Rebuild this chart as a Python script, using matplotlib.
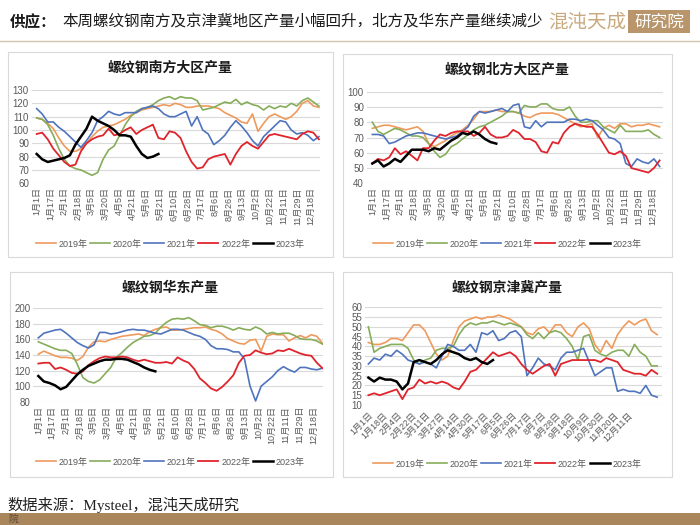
import numpy as np
import matplotlib
matplotlib.use("Agg")
import matplotlib.pyplot as plt
from matplotlib.patches import Rectangle
from matplotlib.lines import Line2D

plt.rcParams['font.family'] = ['Liberation Sans', 'Noto Sans CJK SC', 'DejaVu Sans']

W, H = 700, 525

# 图例和颜色
years = ["2019年", "2020年", "2021年", "2022年", "2023年"]
colors = ["#ee9a5c", "#86ad5a", "#4f74bd", "#e0242c", "#000000"]
widths = [1.2, 1.2, 1.2, 1.3, 1.8]

# x轴标签
dates_a = ["1月1日", "1月17日", "2月1日", "2月18日", "3月5日", "3月20日", "4月5日",
           "4月21日", "5月6日", "5月21日", "6月10日", "6月28日", "7月17日", "8月6日",
           "8月26日", "9月13日", "10月2日", "10月22日", "11月11日", "11月29日", "12月18日"]
dates_b = ["1月1日", "1月18日", "2月4日", "2月22日", "3月11日", "3月27日", "4月14日",
           "4月30日", "5月17日", "6月5日", "6月26日", "7月17日", "8月7日", "8月28日",
           "9月18日", "10月9日", "10月30日", "11月20日", "12月11日"]

# 南方大区
south_2019 = [109, 108, 105, 101, 94, 88, 84, 84, 86, 90, 95, 99, 102, 103, 104, 106, 108, 111, 113, 115,
              116, 117, 118, 119, 118, 120, 119, 117, 117, 118, 118, 118, 117, 116, 113, 111, 109, 106, 105, 112,
              99, 105, 110, 112, 110, 108, 110, 114, 120, 122, 118, 117]
south_2020 = [109, 108, 104, 96, 86, 78, 73, 71, 70, 68, 66, 68, 78, 85, 88, 96, 104, 110, 114, 116,
              117, 119, 122, 124, 125, 123, 125, 124, 124, 122, 115, 116, 117, 119, 121, 120, 123, 119, 121, 119,
              118, 115, 118, 116, 118, 117, 120, 118, 122, 124, 121, 118]
south_2021 = [116, 112, 106, 106, 102, 99, 95, 91, 87, 92, 98, 107, 110, 114, 112, 111, 113, 113, 113, 116,
              117, 118, 116, 112, 110, 110, 112, 114, 103, 110, 100, 97, 89, 92, 96, 102, 107, 103, 98, 92,
              88, 95, 99, 103, 107, 106, 100, 97, 98, 96, 92, 95]
south_2022 = [97, 98, 93, 86, 81, 76, 73, 74, 84, 90, 93, 95, 96, 101, 96, 97, 100, 102, 97, 100,
              102, 104, 94, 93, 99, 98, 94, 84, 76, 71, 72, 78, 80, 81, 82, 74, 82, 88, 91, 88,
              86, 91, 96, 97, 96, 95, 94, 93, 97, 99, 98, 93]
south_2023 = [82, 78, 76, 77, 78, 79, 81, 89, 95, 101, 110, 107, 105, 103, 100, 96, 96, 95, 88, 82, 79, 80, 82]

# 北方大区
north_2019 = [76, 77, 78, 78, 77, 76, 75, 76, 77, 74, 66, 64, 66, 68, 71, 73, 75, 78, 82, 87,
              87, 87, 88, 87, 87, 87, 86, 84, 83, 85, 86, 86, 86, 85, 83, 81, 79, 77, 78, 79,
              70, 76, 78, 76, 79, 79, 77, 78, 78, 79, 78, 77]
north_2020 = [80, 74, 72, 74, 76, 75, 73, 71, 71, 70, 66, 61, 57, 59, 64, 66, 69, 72, 75, 77,
              78, 80, 82, 84, 87, 87, 86, 91, 90, 90, 92, 92, 89, 88, 88, 90, 84, 80, 80, 81,
              81, 77, 75, 73, 78, 74, 74, 74, 74, 75, 72, 70]
north_2021 = [72, 72, 71, 66, 67, 69, 71, 72, 73, 73, 72, 71, 70, 69, 70, 71, 74, 77, 84, 87,
              86, 87, 88, 89, 87, 91, 92, 77, 76, 81, 77, 80, 80, 80, 80, 82, 82, 81, 82, 81,
              78, 75, 70, 69, 66, 53, 51, 56, 54, 53, 56, 51]
north_2022 = [53, 56, 55, 57, 63, 59, 61, 58, 55, 63, 63, 68, 72, 71, 73, 74, 74, 74, 71, 73,
              77, 72, 70, 70, 71, 75, 73, 69, 69, 67, 61, 60, 67, 66, 73, 77, 79, 78, 77, 77,
              72, 66, 60, 59, 61, 58, 50, 49, 48, 47, 50, 55]
north_2023 = [53, 55, 51, 53, 56, 54, 58, 62, 62, 62, 61, 63, 62, 65, 68, 70, 73, 72, 74, 72, 69, 67, 66]

# 华东
east_2019 = [141, 145, 142, 139, 137, 137, 136, 133, 138, 150, 157, 158, 157, 160, 162, 164, 165, 166, 167, 165,
             170, 173, 175, 176, 172, 172, 173, 174, 175, 175, 176, 173, 171, 167, 161, 158, 155, 154, 159, 160,
             145, 164, 167, 166, 166, 158, 162, 165, 162, 166, 164, 155]
east_2020 = [157, 154, 151, 148, 146, 146, 142, 128, 111, 106, 104, 108, 116, 124, 137, 143, 150, 156, 160, 164,
             165, 168, 176, 182, 186, 187, 186, 188, 184, 179, 178, 175, 177, 177, 175, 172, 175, 173, 172, 176,
             173, 167, 169, 167, 168, 168, 165, 161, 160, 160, 158, 154]
east_2021 = [162, 168, 170, 172, 173, 168, 162, 156, 152, 149, 153, 169, 169, 167, 168, 170, 172, 173, 172, 172,
             170, 168, 167, 170, 173, 173, 172, 169, 166, 164, 160, 152, 148, 148, 147, 144, 144, 135, 100, 81,
             100, 106, 112, 120, 125, 121, 118, 124, 124, 122, 121, 123]
east_2022 = [129, 130, 130, 122, 124, 121, 117, 116, 119, 127, 132, 136, 138, 137, 137, 138, 137, 134, 132, 134,
             132, 130, 130, 131, 129, 137, 133, 130, 122, 110, 104, 97, 94, 99, 106, 114, 130, 139, 140, 146,
             143, 141, 142, 146, 145, 148, 145, 142, 140, 139, 130, 123]
east_2023 = [113, 106, 104, 101, 96, 99, 107, 115, 121, 126, 129, 132, 134, 134, 135, 135, 134, 131, 128, 124, 121, 119]

# 京津冀
jjj_2019 = [42, 41, 41, 42, 44, 44, 43, 47, 51, 51, 48, 42, 36, 33, 35, 43, 50, 53, 54, 55,
            54, 55, 55, 56, 55, 54, 52, 50, 47, 46, 49, 50, 47, 51, 51, 47, 45, 50, 52, 49,
            41, 37, 43, 39, 46, 50, 53, 51, 53, 54, 48, 46]
jjj_2020 = [50, 37, 39, 40, 41, 41, 41, 39, 33, 31, 33, 34, 38, 39, 39, 40, 46, 50, 52, 51,
            52, 52, 53, 52, 51, 52, 51, 50, 46, 44, 47, 44, 47, 48, 47, 44, 40, 33, 45, 46,
            38, 36, 35, 37, 38, 38, 35, 41, 37, 35, 30, 30]
jjj_2021 = [31, 34, 33, 36, 35, 38, 36, 33, 32, 31, 32, 31, 29, 35, 41, 40, 38, 38, 41, 37,
            47, 46, 48, 43, 44, 47, 48, 45, 25, 29, 34, 31, 30, 28, 34, 37, 37, 38, 39, 32,
            25, 27, 29, 29, 17, 18, 17, 17, 16, 20, 15, 14]
jjj_2022 = [15, 16, 15, 16, 17, 18, 13, 18, 19, 23, 21, 22, 21, 22, 21, 19, 18, 22, 27, 28,
            31, 34, 37, 35, 36, 37, 35, 31, 28, 26, 28, 30, 31, 25, 31, 32, 33, 33, 33, 33,
            33, 32, 34, 33, 32, 28, 27, 26, 26, 25, 28, 26]
jjj_2023 = [24, 22, 24, 23, 23, 22, 18, 21, 32, 33, 32, 31, 33, 36, 38, 37, 36, 34, 33, 34, 32, 31, 33]


def fx(px):
    return px / W


def fy(py):
    return 1 - py / H


fig = plt.figure(figsize=(7, 5.25), dpi=100)


def panel(box, area, xlim, title, title_xy, series, ylim, ystep, labels, lstep, rot, leg_xy):
    x0, y0, x1, y1 = box
    fig.add_artist(Rectangle((fx(x0), fy(y1)), (x1 - x0) / W, (y1 - y0) / H,
                             transform=fig.transFigure, facecolor='white',
                             edgecolor='#d9d9d9', lw=0.8, zorder=-1))
    a0, b0, a1, b1 = area
    ax = fig.add_axes([fx(a0), fy(b1), (a1 - a0) / W, (b1 - b0) / H])
    ax.set_facecolor('none')
    for vals, c, lw, lab in zip(series, colors, widths, years):
        ax.plot(np.arange(len(vals)), vals, color=c, lw=lw, label=lab, solid_joinstyle='round')
    ax.set_xlim(xlim)
    ax.set_ylim(ylim)
    ax.set_yticks(np.arange(ylim[0], ylim[1] + 1, ystep))
    ax.yaxis.grid(True, color='#d9d9d9', lw=0.8)
    ax.set_axisbelow(True)
    for s in ax.spines.values():
        s.set_visible(False)
    ax.set_xticks(np.arange(len(labels)) * lstep)
    if rot == 90:
        ax.set_xticklabels(labels, rotation=90, ha='center', va='top')
        ax.tick_params(axis='x', pad=3)
    else:
        ax.set_xticklabels(labels, rotation=45, ha='right', va='top', rotation_mode='anchor')
        ax.tick_params(axis='x', pad=4)
    ax.tick_params(length=0, labelsize=6.5, colors='#595959')
    ax.tick_params(axis='y', labelsize=7, pad=2)
    fig.text(fx(title_xy[0]), fy(title_xy[1]), title, ha='center', va='center',
             fontsize=10, fontweight='bold', family=['Noto Sans CJK SC'], color='#1a1a1a')
    h, l = ax.get_legend_handles_labels()
    fig.legend(h, l, loc='center', bbox_to_anchor=(fx(leg_xy[0]), fy(leg_xy[1])), ncol=5,
               frameon=False, fontsize=6.5, handlelength=2.2, handletextpad=0.3,
               columnspacing=0.3, labelcolor='#595959')


panel((8, 52, 333, 257), (31.7, 90, 320, 183.3), (-0.9, 51.2), "螺纹钢南方大区产量", (170, 68),
      [south_2019, south_2020, south_2021, south_2022, south_2023], (60, 130), 10,
      dates_a, 2.48, 90, (170, 244))
panel((343, 54, 672, 257), (366.7, 91.7, 663, 183.3), (-1.0, 51.6), "螺纹钢北方大区产量", (507, 70),
      [north_2019, north_2020, north_2021, north_2022, north_2023], (40, 100), 10,
      dates_a, 2.49, 90, (507, 244))
panel((10, 272, 333, 477), (33.3, 308.3, 323, 401.7), (-0.9, 51.1), "螺纹钢华东产量", (170, 288),
      [east_2019, east_2020, east_2021, east_2022, east_2023], (80, 200), 20,
      dates_a, 2.47, 90, (170, 462))
panel((343, 272, 672, 477), (365, 307.3, 661.7, 405), (-0.6, 51.8), "螺纹钢京津冀产量", (507, 288),
      [jjj_2019, jjj_2020, jjj_2021, jjj_2022, jjj_2023], (10, 60), 5,
      dates_b, 2.55, 45, (507, 464))

# 标题栏
fig.text(fx(10), fy(22), "供应：", fontsize=11.2, fontweight='bold', family=['Noto Sans CJK SC'],
         va='center', ha='left', color='#1a1a1a')
fig.text(fx(62), fy(22), "本周螺纹钢南方及京津冀地区产量小幅回升，北方及华东产量继续减少",
         fontsize=11.2, family=['Noto Sans CJK SC'], va='center', ha='left', color='#1a1a1a')
fig.text(fx(587), fy(22), "混沌天成", fontsize=14, color='#c8aa7e', family=['Noto Sans CJK SC'],
         fontweight='light', ha='center', va='center')
fig.add_artist(Rectangle((fx(628), fy(33)), 62 / W, 23 / H, transform=fig.transFigure,
                         facecolor='#b8956a', edgecolor='none'))
fig.text(fx(659), fy(22), "研究院", fontsize=12, color='white', family=['Noto Sans CJK SC'],
         ha='center', va='center')
fig.add_artist(Line2D([0, 1], [fy(41), fy(41)], transform=fig.transFigure, color='#d3c4ab', lw=1))

# 底部
fig.text(fx(7), fy(505), "数据来源：Mysteel，混沌天成研究", fontsize=11,
         family=['Liberation Serif', 'Noto Sans CJK SC'], va='center', ha='left', color='#222222')
fig.add_artist(Rectangle((0, 0), 1, 12 / H, transform=fig.transFigure,
                         facecolor='#a9865c', edgecolor='none'))
fig.text(fx(8), fy(519), "院", fontsize=7, color='#5b4632', family=['Noto Sans CJK SC'],
         va='center', ha='left')

fig.savefig("out.png", dpi=100, facecolor='white')
